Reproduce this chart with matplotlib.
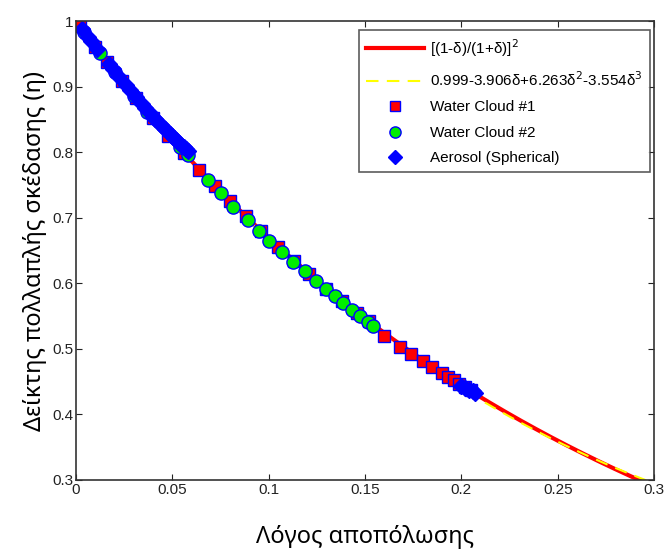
import matplotlib.pyplot as plt
import numpy as np

plt.rcParams['font.family'] = ['Liberation Sans', 'DejaVu Sans']

# Water Cloud #1 (squares)
wc1_d = [0.002, 0.010, 0.016, 0.024, 0.031, 0.040, 0.048, 0.056, 0.064, 0.072, 0.080,
         0.088, 0.096, 0.105, 0.113, 0.121, 0.130, 0.138, 0.146, 0.152, 0.160, 0.168,
         0.174, 0.180, 0.185, 0.190, 0.193, 0.196, 0.199, 0.202, 0.205]
wc1_eta = [0.992, 0.961, 0.938, 0.909, 0.883, 0.852, 0.825, 0.799, 0.773, 0.749, 0.725,
           0.702, 0.679, 0.655, 0.634, 0.614, 0.592, 0.573, 0.555, 0.542, 0.519, 0.503,
           0.492, 0.481, 0.472, 0.463, 0.457, 0.452, 0.447, 0.442, 0.437]

# Water Cloud #2 (circles)
wc2_d = [0.004, 0.0125, 0.020, 0.030, 0.037, 0.054, 0.058, 0.0686, 0.0754, 0.0816, 0.0894,
         0.0952, 0.1004, 0.1071, 0.1128, 0.1186, 0.1243, 0.1295, 0.1342, 0.1388, 0.1435,
         0.1472, 0.1513, 0.1544]
wc2_eta = [0.984, 0.951, 0.922, 0.886, 0.862, 0.808, 0.795, 0.758, 0.738, 0.717, 0.697,
           0.679, 0.665, 0.647, 0.632, 0.618, 0.604, 0.592, 0.581, 0.570, 0.559,
           0.550, 0.541, 0.535]

# Aerosol (Spherical) (diamonds)
aer_d = [0.003, 0.006, 0.008, 0.011, 0.017, 0.019, 0.022, 0.026, 0.028, 0.031, 0.034,
         0.036, 0.038, 0.040, 0.041, 0.043, 0.044, 0.046, 0.047, 0.049, 0.050, 0.051,
         0.052, 0.053, 0.054, 0.055, 0.056, 0.057, 0.058, 0.200, 0.202, 0.204, 0.206, 0.207]
aer_eta = [0.988, 0.976, 0.969, 0.957, 0.934, 0.927, 0.916, 0.902, 0.895, 0.884, 0.874,
           0.867, 0.861, 0.854, 0.851, 0.845, 0.841, 0.836, 0.833, 0.827, 0.825, 0.822,
           0.819, 0.816, 0.813, 0.810, 0.808, 0.805, 0.802, 0.444, 0.441, 0.438, 0.435, 0.433]

# fitted polynomial coefficients from the legend
poly_c = [0.999, -3.906, 6.263, -3.554]

xticks = [0, 0.05, 0.1, 0.15, 0.2, 0.25, 0.3]
xtick_labels = ['0', '0.05', '0.1', '0.15', '0.2', '0.25', '0.3']
yticks = [0.3, 0.4, 0.5, 0.6, 0.7, 0.8, 0.9, 1.0]
ytick_labels = ['0.3', '0.4', '0.5', '0.6', '0.7', '0.8', '0.9', '1']

d = np.linspace(0, 0.3, 300)
eta_exact = ((1 - d) / (1 + d)) ** 2
eta_poly = poly_c[0] + poly_c[1] * d + poly_c[2] * d ** 2 + poly_c[3] * d ** 3

fig = plt.figure(figsize=(6.65, 5.49), dpi=100)
ax = fig.add_axes([0.1143, 0.1257, 0.8692, 0.836])

ax.plot(d, eta_exact, color='red', lw=3, label=r'[(1-δ)/(1+δ)]$^2$')
ax.plot(d, eta_poly, color='yellow', lw=1.5, ls='--', dashes=(6, 4),
        label=r'0.999-3.906δ+6.263δ$^2$-3.554δ$^3$')
ax.plot(wc1_d, wc1_eta, 's', ms=8, mfc='red', mec='blue', mew=1, label='Water Cloud #1')
ax.plot(wc2_d, wc2_eta, 'o', ms=9.5, mfc='#00ee00', mec='blue', mew=1, label='Water Cloud #2')
ax.plot(aer_d, aer_eta, 'D', ms=8.5, mfc='blue', mec='blue', mew=1,
        label='Aerosol (Spherical)')

ax.set_xlim(0, 0.3)
ax.set_ylim(0.3, 1.0)
ax.set_xticks(xticks)
ax.set_xticklabels(xtick_labels)
ax.set_yticks(yticks)
ax.set_yticklabels(ytick_labels)
ax.tick_params(direction='in', top=True, right=True, labelsize=11, length=4,
               colors='#222222', pad=2)
for s in ax.spines.values():
    s.set_color('#333333')
    s.set_linewidth(1.2)

ax.set_xlabel('Λόγος αποπόλωσης', fontsize=17, family=['Noto Sans'], labelpad=20)
ax.set_ylabel('Δείκτης πολλαπλής σκέδασης (η)', fontsize=17, family=['Noto Sans'],
              labelpad=4)

leg = ax.legend(loc='upper right', bbox_to_anchor=(0.993, 0.98), borderaxespad=0,
                fontsize=11, frameon=True, fancybox=False, edgecolor='#333333',
                handlelength=3.8, labelspacing=0.75, borderpad=0.45, handletextpad=0.4,
                markerscale=0.85)
leg.get_frame().set_linewidth(1.2)

fig.savefig('out.png', dpi=100)
